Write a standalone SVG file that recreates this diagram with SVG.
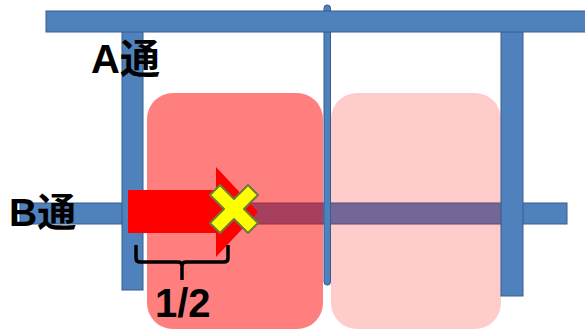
<svg xmlns="http://www.w3.org/2000/svg" width="585" height="331" viewBox="0 0 585 331">
  <style>
    .bar { fill: #4F81BD; stroke: #385D8A; stroke-width: 1; }
    .lbl { font-family: "Liberation Sans", "Noto Sans CJK JP", sans-serif; font-weight: bold; fill: #000; }
  </style>
  <rect width="585" height="331" fill="#FFFFFF"/>

  <!-- B street (horizontal) -->
  <g id="street-b">
    <rect class="bar" x="20" y="203" width="547" height="21"/>
  </g>

  <!-- blocks, translucent red over the street -->
  <g id="block-1">
    <rect x="147" y="93" width="176" height="236" rx="26" fill="#FF0000" fill-opacity="0.5"/>
  </g>
  <g id="block-2">
    <rect x="331" y="93" width="170" height="236" rx="26" fill="#FF0000" fill-opacity="0.2"/>
  </g>

  <!-- vertical streets -->
  <g id="street-a">
    <rect class="bar" x="122" y="30" width="21" height="260"/>
  </g>
  <g id="street-mid">
    <rect class="bar" x="324" y="5" width="6.5" height="280" rx="3"/>
  </g>
  <g id="street-right">
    <rect class="bar" x="501" y="30" width="22" height="266"/>
  </g>
  <g id="street-top">
    <rect class="bar" x="46" y="11" width="545" height="21"/>
  </g>

  <!-- half-way arrow and stop mark -->
  <g id="arrow">
    <polygon points="128,190 216,190 216,167 258,212 216,257 216,233 128,233" fill="#FF0000"/>
  </g>
  <g id="stop-mark">
    <polygon transform="translate(234,209)" points="-24,-14 -14,-24 0,-10 14,-24 24,-14 10,0 24,14 14,24 0,10 -14,24 -24,14 -10,0" fill="#FFFF00" stroke="#6F7A3A" stroke-width="2" stroke-linejoin="round"/>
  </g>

  <!-- brace under the arrow -->
  <g id="brace">
    <path d="M136,245 V258 Q136,262 140,262 H178 Q182,262 182,266 V280 M182,266 Q182,262 186,262 H224 Q228,262 228,258 V245" fill="none" stroke="#000" stroke-width="3.5"/>
  </g>

  <!-- labels -->
  <text class="lbl" x="91" y="73" font-size="40">A通</text>
  <text class="lbl" x="9" y="226" font-size="39">B通</text>
  <text class="lbl" x="155" y="317" font-size="40">1/2</text>
</svg>
